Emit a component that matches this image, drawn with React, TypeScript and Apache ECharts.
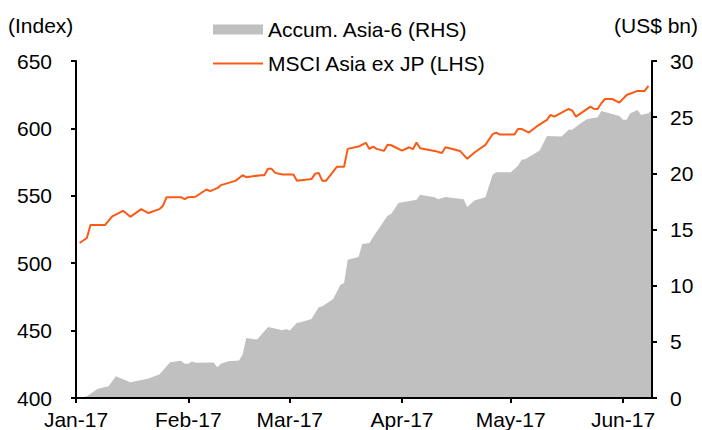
import React, { useEffect, useRef } from "react";
import * as echarts from "echarts";

const lineDates = [
  "2017-01-02", "2017-01-04", "2017-01-05", "2017-01-09", "2017-01-11", "2017-01-14", "2017-01-16",
  "2017-01-19", "2017-01-21", "2017-01-24", "2017-01-25", "2017-01-26", "2017-01-30", "2017-01-31",
  "2017-02-01", "2017-02-03", "2017-02-06", "2017-02-07", "2017-02-09", "2017-02-10", "2017-02-14",
  "2017-02-16", "2017-02-17", "2017-02-21", "2017-02-22", "2017-02-23", "2017-02-24", "2017-02-25",
  "2017-02-27", "2017-03-02", "2017-03-03", "2017-03-07", "2017-03-08", "2017-03-09", "2017-03-10",
  "2017-03-11", "2017-03-14", "2017-03-16", "2017-03-17", "2017-03-20", "2017-03-22", "2017-03-23",
  "2017-03-24", "2017-03-25", "2017-03-27", "2017-03-28", "2017-03-29", "2017-04-01", "2017-04-03",
  "2017-04-04", "2017-04-05", "2017-04-06", "2017-04-10", "2017-04-12", "2017-04-13", "2017-04-17",
  "2017-04-19", "2017-04-21", "2017-04-24", "2017-04-26", "2017-04-27", "2017-04-28", "2017-05-02",
  "2017-05-03", "2017-05-04", "2017-05-06", "2017-05-08", "2017-05-10", "2017-05-11", "2017-05-12",
  "2017-05-13", "2017-05-17", "2017-05-18", "2017-05-19", "2017-05-23", "2017-05-24", "2017-05-25",
  "2017-05-26", "2017-05-27", "2017-05-29", "2017-05-31", "2017-06-02", "2017-06-05", "2017-06-07",
  "2017-06-08",
];
const msciValues = [
  515.0, 518.7, 528.3, 528.3, 534.7, 538.9, 534.4,
  540.1, 537.2, 540.1, 542.6, 549.0, 549.0, 547.5,
  549.0, 549.3, 554.7, 553.5, 555.7, 557.9, 561.1,
  565.3, 563.8, 565.3, 565.3, 570.0, 570.0, 567.0,
  565.8, 565.8, 561.1, 562.4, 566.3, 567.0, 561.1,
  561.1, 571.5, 571.5, 584.8, 586.5, 589.3, 584.8,
  586.5, 584.8, 583.3, 587.8, 587.5, 583.5, 586.0,
  584.6, 589.5, 585.3, 583.3, 581.8, 586.0, 583.3,
  577.4, 582.1, 587.8, 595.7, 596.9, 595.4, 595.4,
  599.6, 599.6, 596.9, 601.1, 604.6, 606.3, 610.0,
  608.7, 614.4, 613.2, 608.7, 616.1, 614.4, 614.4,
  618.6, 621.8, 621.8, 619.1, 624.8, 627.8, 627.8,
  631.5,
];

const areaDates = [
  "2017-01-02", "2017-01-04", "2017-01-05", "2017-01-07", "2017-01-10", "2017-01-12", "2017-01-16",
  "2017-01-18", "2017-01-21", "2017-01-24", "2017-01-27", "2017-01-30", "2017-01-31", "2017-02-01",
  "2017-02-02", "2017-02-03", "2017-02-08", "2017-02-09", "2017-02-10", "2017-02-12", "2017-02-15",
  "2017-02-16", "2017-02-17", "2017-02-20", "2017-02-23", "2017-02-27", "2017-02-28", "2017-03-01",
  "2017-03-03", "2017-03-04", "2017-03-07", "2017-03-09", "2017-03-10", "2017-03-13", "2017-03-15",
  "2017-03-16", "2017-03-17", "2017-03-20", "2017-03-21", "2017-03-23", "2017-03-24", "2017-03-28",
  "2017-03-29", "2017-03-31", "2017-04-05", "2017-04-06", "2017-04-10", "2017-04-11", "2017-04-13",
  "2017-04-18", "2017-04-19", "2017-04-21", "2017-04-24", "2017-04-26", "2017-04-27", "2017-05-01",
  "2017-05-03", "2017-05-04", "2017-05-05", "2017-05-09", "2017-05-11", "2017-05-15", "2017-05-17",
  "2017-05-18", "2017-05-20", "2017-05-22", "2017-05-25", "2017-05-26", "2017-05-30", "2017-05-31",
  "2017-06-01", "2017-06-02", "2017-06-03", "2017-06-05", "2017-06-06", "2017-06-08", "2017-06-09",
];
const asia6Values = [
  0.0, 0.16, 0.37, 0.82, 1.05, 1.94, 1.40,
  1.53, 1.73, 2.09, 3.18, 3.31, 3.04, 3.04,
  3.24, 3.13, 3.16, 2.74, 3.04, 3.27, 3.33,
  3.87, 5.35, 5.2, 6.33, 6.03, 6.15, 6.0,
  6.7, 6.74, 7.04, 8.07, 8.16, 8.82, 10.09,
  10.24, 12.31, 12.55, 13.71, 13.8, 14.33, 16.22,
  16.37, 17.35, 17.64, 18.09, 17.88, 17.7, 17.9,
  17.7, 17.0, 17.58, 17.88, 19.87, 20.1, 20.1,
  20.67, 21.2, 21.26, 22.03, 23.33, 23.27, 23.87,
  23.87, 24.4, 24.82, 25.0, 25.56, 25.2, 25.11,
  24.76, 24.76, 25.35, 25.64, 25.2, 25.35, 25.64,
];

const monthNames = ["Jan", "Feb", "Mar", "Apr", "May", "Jun", "Jul", "Aug", "Sep", "Oct", "Nov", "Dec"];
const FONT = "'Liberation Sans', Arial, sans-serif";
const FS = 21;

export default function App() {
  const ref = useRef<HTMLDivElement>(null);
  useEffect(() => {
    if (!ref.current) return;
    const chart = echarts.init(ref.current, null, { renderer: "svg" });
    const axisLine = { show: true, lineStyle: { color: "#000", width: 2 } };
    const axisTick = { show: true, length: 5, lineStyle: { color: "#000", width: 2 } };
    const label = { color: "#000", fontSize: FS, fontFamily: FONT };
    chart.setOption({
      animation: false,
      textStyle: { fontFamily: FONT },
      grid: { left: 76, right: 50, top: 61, bottom: 31, containLabel: false },
      legend: {
        orient: "vertical",
        left: 207,
        top: 14,
        itemWidth: 50,
        itemHeight: 10,
        itemGap: 13,
        textStyle: { color: "#000", fontSize: FS, fontFamily: FONT, lineHeight: 20 },
        data: [
          { name: "Accum. Asia-6 (RHS)", icon: "rect" },
          { name: "MSCI Asia ex JP (LHS)", itemStyle: { opacity: 0 } },
        ],
      },
      graphic: [
        { type: "text", left: 8, top: 15, style: { text: "(Index)", fontSize: FS, fontFamily: FONT, fill: "#000" } },
        { type: "text", right: 4, top: 15, style: { text: "(US$ bn)", fontSize: FS, fontFamily: FONT, fill: "#000" } },
      ],
      xAxis: {
        type: "time",
        z: 5,
        min: +new Date(2017, 0, 1),
        max: +new Date(2017, 5, 9),
        splitNumber: 6,
        axisLine,
        axisTick,
        splitLine: { show: false },
        axisLabel: {
          ...label,
          margin: 11,
          formatter: (v: number) => {
            const d = new Date(v);
            return monthNames[d.getMonth()] + "-" + String(d.getFullYear() % 100).padStart(2, "0");
          },
        },
      },
      yAxis: [
        {
          type: "value",
          z: 5,
          min: 400,
          max: 650,
          interval: 50,
          axisLine,
          axisTick,
          splitLine: { show: false },
          axisLabel: { ...label, margin: 24 },
        },
        {
          type: "value",
          z: 5,
          position: "right",
          min: 0,
          max: 30,
          interval: 5,
          axisLine,
          axisTick,
          splitLine: { show: false },
          axisLabel: { ...label, margin: 18 },
        },
      ],
      series: [
        {
          name: "Accum. Asia-6 (RHS)",
          type: "line",
          yAxisIndex: 1,
          symbol: "none",
          color: "#C0C0C0",
          lineStyle: { width: 0 },
          areaStyle: { color: "#C0C0C0", opacity: 1 },
          data: areaDates.map((d, i) => [d, asia6Values[i]]),
          z: 1,
        },
        {
          name: "MSCI Asia ex JP (LHS)",
          type: "line",
          yAxisIndex: 0,
          symbol: "none",
          color: "#FA5A14",
          lineStyle: { width: 2, color: "#FA5A14" },
          data: lineDates.map((d, i) => [d, msciValues[i]]),
          z: 2,
        },
      ],
    });
    return () => chart.dispose();
  }, []);
  return <div ref={ref} style={{ width: 702, height: 430, position: "absolute", left: 0, top: 0 }} />;
}
